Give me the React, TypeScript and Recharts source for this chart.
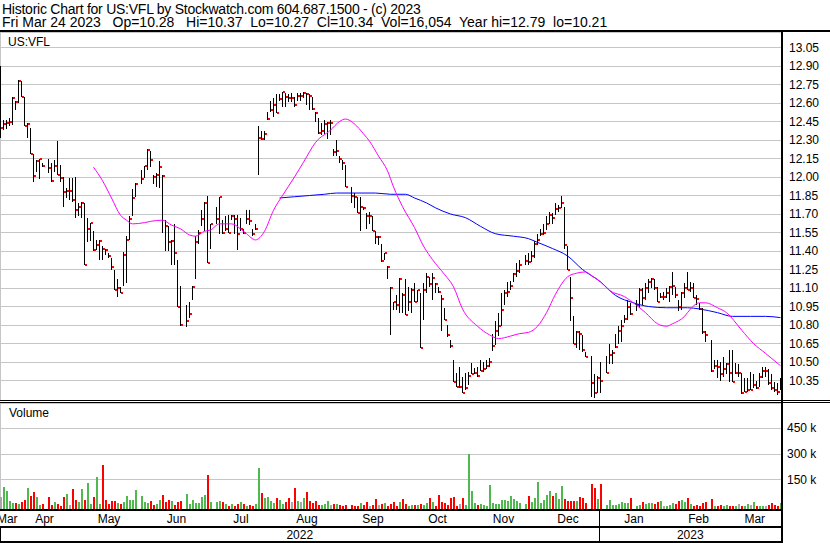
import { ComposedChart, Bar, Line, XAxis, YAxis, CartesianGrid } from 'recharts';

// daily bars, one slot per weekday from Fri Mar 25 2022 to Fri Mar 24 2023 (null = market holiday)
const highs = [
  12.90, 12.46, 12.46, 12.48, 12.65, 12.62, 12.79, 12.78, 12.65, 12.44,
  12.40, 12.19, 12.14, 12.15, 12.11, null, 12.15, 12.11, 12.14, 12.29,
  12.10, 12.00, 11.91, 11.99, 11.99, 12.00, 11.79, 11.80, 11.79, 11.67,
  11.63, 11.56, 11.49, 11.49, 11.44, 11.42, 11.38, 11.34, 11.25, 11.17,
  11.11, 11.39, 11.52, 11.68, 11.90, 11.95, null, 12.06, 12.09, 12.23,
  12.21, 12.02, 12.03, 12.13, 12.02, 11.65, 11.60, 11.49, 11.62, 11.33,
  11.12, null, 10.96, 10.99, 11.12, 11.52, 11.57, 11.73, 11.80, 11.85,
  11.62, null, 11.76, 11.84, 11.65, 11.68, 11.69, 11.69, 11.69, 11.69,
  11.67, 11.58, 11.73, 11.73, 11.58, 11.62, 12.41, 12.37, 12.37, 12.53,
  12.62, 12.64, 12.67, 12.67, 12.69, 12.68, 12.67, 12.68, 12.65, 12.68,
  12.68, 12.69, 12.68, 12.67, 12.65, 12.53, 12.48, 12.44, 12.46, 12.45,
  12.46, 12.23, 12.30, 12.17, 12.14, 12.10, null, 11.92, 11.87, 11.84,
  11.84, 11.76, 11.71, 11.72, 11.68, 11.56, 11.52, 11.46, 11.38, 11.28,
  11.11, 10.99, 11.04, 11.18, 11.06, 11.17, 11.11, 11.10, 11.14, 11.08,
  11.06, 11.14, 11.22, 11.19, 11.22, 11.14, 11.11, 11.04, 10.94, 10.80,
  10.68, 10.52, 10.41, 10.46, 10.38, 10.41, 10.42, 10.49, 10.45, 10.46,
  10.52, 10.50, 10.52, 10.53, 10.73, 10.83, 10.90, 11.06, 11.08, 11.15,
  11.16, 11.22, 11.30, 11.33, null, 11.37, 11.38, 11.40, 11.48, 11.54,
  11.58, 11.62, 11.68, 11.72, 11.71, 11.79, 11.77, 11.85, 11.76, 11.44,
  11.19, 10.87, 10.75, 10.75, 10.72, 10.58, null, 10.55, 10.40, 10.39,
  10.50, null, 10.55, 10.65, 10.60, 10.73, 10.79, 10.84, 10.88, 11.00,
  10.98, null, 11.00, 11.10, 11.10, 11.14, 11.17, 11.18, 11.17, 11.11,
  11.06, 11.07, 11.10, 11.12, 11.23, 11.11, 11.00, 11.07, 11.14, 11.23,
  11.15, 11.14, 11.04, 10.98, 10.94, 10.75, null, 10.68, 10.52, 10.52,
  10.50, 10.54, 10.49, 10.60, 10.60, 10.49, 10.48, 10.41, 10.37, 10.37,
  10.42, 10.40, 10.35, 10.41, 10.46, 10.46, 10.44, 10.40, 10.34, 10.33,
  10.37,
];

const lows = [
  12.32, 12.38, 12.39, 12.41, 12.42, 12.54, 12.60, 12.65, 12.41, 12.32,
  12.19, 11.96, 12.04, 11.98, 12.08, null, 12.03, 11.96, 12.04, 12.02,
  11.96, 11.76, 11.83, 11.81, 11.80, 11.67, 11.68, 11.67, 11.29, 11.47,
  11.48, 11.40, 11.41, 11.33, 11.33, 11.37, 11.34, 11.25, 11.08, 11.03,
  11.06, 11.12, 11.14, 11.49, 11.68, 11.84, null, 11.94, 11.99, 12.06,
  12.08, 11.94, 11.92, 11.91, 11.55, 11.40, 11.40, 11.29, 11.29, 10.95,
  10.79, null, 10.78, 10.86, 11.00, 11.17, 11.46, 11.60, 11.56, 11.30,
  11.42, null, 11.62, 11.54, 11.54, 11.56, 11.55, 11.65, 11.54, 11.41,
  11.56, 11.54, 11.62, 11.61, 11.52, 11.57, 12.02, 12.30, 12.30, 12.46,
  12.53, 12.49, 12.52, 12.62, 12.57, 12.57, 12.61, 12.61, 12.57, 12.62,
  12.62, 12.64, 12.58, 12.54, 12.54, 12.45, 12.35, 12.34, 12.35, 12.31,
  12.34, 12.17, 12.17, 12.11, 12.06, 11.92, null, 11.79, 11.75, 11.71,
  11.56, 11.73, 11.58, 11.62, 11.56, 11.46, 11.45, 11.31, 11.33, 11.17,
  10.72, 10.92, 10.92, 10.90, 10.90, 10.88, 10.91, 10.90, 10.99, 10.99,
  10.61, 10.84, 11.06, 11.11, 11.00, 11.06, 11.06, 10.75, 10.84, 10.70,
  10.61, 10.34, 10.30, 10.29, 10.25, 10.27, 10.31, 10.40, 10.40, 10.38,
  10.43, 10.42, 10.44, 10.46, 10.59, 10.64, 10.71, 10.79, 10.96, 11.03,
  11.08, 11.15, 11.19, 11.22, null, 11.29, 11.29, 11.31, 11.34, 11.45,
  11.52, 11.53, 11.57, 11.62, 11.62, 11.69, 11.72, 11.75, 11.42, 11.25,
  10.83, 10.65, 10.61, 10.60, 10.58, 10.54, null, 10.22, 10.21, 10.25,
  10.25, null, 10.41, 10.48, 10.48, 10.61, 10.65, 10.66, 10.82, 10.84,
  10.88, null, 10.91, 10.94, 10.96, 11.00, 11.06, 11.10, 11.08, 10.99,
  11.02, 11.00, 11.02, 10.99, 11.04, 11.02, 10.91, 10.92, 11.02, 11.08,
  11.07, 11.02, 10.96, 10.92, 10.73, 10.66, null, 10.42, 10.44, 10.37,
  10.35, 10.38, 10.40, 10.34, 10.34, 10.40, 10.38, 10.24, 10.26, 10.26,
  10.27, 10.29, 10.28, 10.30, 10.37, 10.38, 10.31, 10.27, 10.26, 10.23,
  10.27,
];

const closes = [
  12.40, 12.43, 12.44, 12.45, 12.64, 12.61, 12.78, 12.65, 12.41, 12.43,
  12.19, 12.01, 12.13, 12.15, 12.09, null, 12.07, 11.97, 12.09, 12.02,
  11.99, 11.88, 11.89, 11.89, 11.81, 11.73, 11.76, 11.79, 11.29, 11.58,
  11.63, 11.41, 11.45, 11.48, 11.42, 11.41, 11.36, 11.27, 11.08, 11.10,
  11.06, 11.37, 11.49, 11.66, 11.83, 11.94, null, 11.98, 12.09, 12.22,
  12.14, 12.00, 12.02, 12.08, 12.01, 11.60, 11.47, 11.48, 11.38, 10.95,
  10.80, null, 10.83, 10.89, 11.11, 11.47, 11.55, 11.66, 11.79, 11.30,
  11.62, null, 11.66, 11.84, 11.55, 11.58, 11.55, 11.68, 11.66, 11.54,
  11.58, 11.55, 11.66, 11.64, 11.54, 11.58, 12.32, 12.31, 12.35, 12.47,
  12.54, 12.58, 12.52, 12.63, 12.69, 12.65, 12.64, 12.64, 12.58, 12.66,
  12.66, 12.68, 12.67, 12.66, 12.55, 12.52, 12.36, 12.37, 12.43, 12.44,
  12.44, 12.20, 12.21, 12.15, 12.11, 11.92, null, 11.85, 11.84, 11.71,
  11.76, 11.75, 11.68, 11.68, 11.56, 11.51, 11.51, 11.32, 11.38, 11.27,
  11.10, 10.99, 10.96, 11.17, 11.04, 10.88, 10.99, 11.08, 10.99, 11.08,
  10.61, 11.08, 11.19, 11.13, 11.18, 11.13, 11.07, 11.01, 10.84, 10.72,
  10.63, 10.34, 10.30, 10.30, 10.25, 10.29, 10.39, 10.40, 10.41, 10.39,
  10.43, 10.44, 10.47, 10.50, 10.63, 10.75, 10.79, 10.92, 11.06, 11.07,
  11.12, 11.21, 11.24, 11.29, null, 11.32, 11.31, 11.36, 11.46, 11.49,
  11.54, 11.55, 11.62, 11.69, 11.67, 11.74, 11.75, 11.79, 11.45, 11.25,
  11.02, 10.65, 10.74, 10.73, 10.60, 10.54, null, 10.33, 10.25, 10.37,
  10.35, null, 10.41, 10.56, 10.57, 10.62, 10.75, 10.79, 10.85, 10.95,
  10.89, null, 10.96, 11.08, 11.02, 11.10, 11.15, 11.17, 11.10, 10.99,
  11.03, 11.03, 11.06, 11.11, 11.12, 11.04, 10.95, 11.06, 11.10, 11.08,
  11.10, 11.02, 11.01, 10.93, 10.74, 10.72, null, 10.43, 10.47, 10.46,
  10.40, 10.44, 10.48, 10.41, 10.34, 10.41, 10.41, 10.25, 10.26, 10.27,
  10.27, 10.31, 10.29, 10.38, 10.43, 10.43, 10.33, 10.29, 10.27, 10.26,
  10.34,
];

// volume in thousands of shares
const volumes = [
  53, 111, 88, 28, 14, 14, 10, 24, 34, 103,
  57, 80, 51, 5, 10, null, 51, 5, 22, 10,
  2, 51, 69, 5, 98, 34, 22, 98, 34, 132,
  10, 51, 167, 10, 237, 34, 10, 28, 28, 16,
  10, 22, 57, 34, 34, 92, null, 57, 22, 16,
  28, 5, 10, 34, 63, 22, 34, 28, 5, 22,
  28, null, 69, 10, 34, 16, 16, 51, 63, 179,
  22, null, 22, 28, 22, 10, 1, 10, 2, 10,
  22, 10, 2, 5, 2, 10, 220, 74, 45, 51,
  28, 16, 45, 34, 10, 22, 45, 22, 103, 28,
  22, 45, 80, 28, 16, 28, 5, 5, 10, 28,
  5, 10, 10, 5, 2, 5, null, 5, 2, 2,
  16, 5, 22, 2, 5, 40, 5, 10, 16, 2,
  10, 22, 1, 22, 40, 10, 2, 5, 5, 5,
  10, 5, 14, 45, 22, 1, 63, 22, 16, 5,
  45, 51, 2, 10, 45, 5, 301, 86, 16, 5,
  10, 5, 2, 121, 16, 10, 10, 34, 34, 28,
  57, 40, 28, 14, null, 10, 57, 22, 45, 138,
  16, 34, 63, 86, 57, 74, 40, 115, 40, 28,
  28, 28, 28, 51, 45, 16, null, 127, 103, 40,
  127, null, 5, 34, 5, 5, 10, 22, 16, 16,
  45, null, 2, 5, 22, 10, 16, 16, 10, 22,
  28, 2, 2, 5, 16, 10, 28, 34, 22, 45,
  10, 2, 5, 2, 16, 22, null, 40, 1, 2,
  5, 2, 5, 1, 2, 1, 10, 2, 1, 10,
  5, 22, 2, 2, 2, 2, 5, 16, 5, 2,
  16,
];

// moving averages: [day slot, price]
const fastAvg: [number, number][] = [
  [31, 12.08], [34, 11.97], [37, 11.83], [40, 11.69], [42, 11.65], [44, 11.62],
  [48, 11.63], [50, 11.64], [54, 11.65], [57, 11.61], [60, 11.58], [63, 11.53],
  [65, 11.52], [68, 11.56], [70, 11.57], [73, 11.62], [77, 11.62], [80, 11.58],
  [82, 11.54], [85, 11.49], [88, 11.56], [91, 11.73], [94, 11.85], [98, 12.0],
  [101, 12.12], [105, 12.28], [110, 12.38], [113, 12.45], [115, 12.47], [118, 12.43],
  [121, 12.35], [123, 12.29], [126, 12.17], [129, 12.05], [131, 11.92], [134, 11.76],
  [138, 11.59], [141, 11.44], [144, 11.33], [148, 11.21], [151, 11.11], [154, 10.93],
  [159, 10.79], [163, 10.72], [166, 10.69], [170, 10.71], [173, 10.73], [176, 10.74],
  [179, 10.79], [182, 10.9], [185, 11.05], [189, 11.19], [192, 11.22], [195, 11.23],
  [197, 11.2], [200, 11.15], [203, 11.08], [208, 11.03], [212, 10.96], [215, 10.9],
  [219, 10.81], [222, 10.79], [224, 10.81], [228, 10.87], [230, 10.93], [233, 10.98],
  [235, 10.98], [239, 10.94], [242, 10.9], [247, 10.76], [251, 10.65], [255, 10.57],
  [260, 10.47],
];

const slowAvg: [number, number][] = [
  [93, 11.83], [98, 11.84], [103, 11.85], [108, 11.86], [112, 11.87], [117, 11.87],
  [125, 11.87], [130, 11.86], [135, 11.86], [138, 11.83], [142, 11.79], [145, 11.75],
  [150, 11.7], [155, 11.67], [160, 11.6], [165, 11.54], [171, 11.52], [176, 11.5],
  [179, 11.47], [184, 11.42], [189, 11.36], [194, 11.25], [200, 11.15], [205, 11.04],
  [211, 10.98], [216, 10.95], [222, 10.94], [229, 10.94], [233, 10.93], [239, 10.9],
  [244, 10.87], [250, 10.87], [255, 10.87], [260, 10.86],
];

const monthLabels = ['Mar', 'Apr', 'May', 'Jun', 'Jul', 'Aug', 'Sep', 'Oct', 'Nov', 'Dec', 'Jan', 'Feb', 'Mar'];
// day slot where each month's grid line sits (Apr 2022 .. Mar 2023)
const monthFirstSlot = [5, 25, 48, 70, 91, 114, 135, 157, 179, 200, 223, 243];
const yearLabels = ['2022', '2023'];
const priceTicks = [
  10.35, 10.5, 10.65, 10.8, 10.95, 11.1, 11.25, 11.4, 11.55, 11.7,
  11.85, 12.0, 12.15, 12.3, 12.45, 12.6, 12.75, 12.9, 13.05,
];
const volumeTicks = [150, 300, 450];

const titleLine = 'Historic Chart for US:VFL by Stockwatch.com 604.687.1500 - (c) 2023';
const quoteLine = 'Fri Mar 24 2023   Op=10.28   Hi=10.37  Lo=10.27  Cl=10.34  Vol=16,054  Year hi=12.79  lo=10.21';

const FONT = '"Liberation Sans", Arial, sans-serif';
const GRID = '#c6c6c6';
const UP = '#4fb84f';
const DOWN = '#ff0000';
const FLAT = '#a8a8a8';

const LAST = closes.length - 1;
const X_DOMAIN: [number, number] = [-1 / 6, LAST + 1 / 6];
const PRICE_DOMAIN: [number, number] = [10.1919, 13.1757];
const VOL_DOMAIN: [number, number] = [-18, 595.8];

const gridX = monthFirstSlot.map((d) => d - 1 / 3);
const edges = [X_DOMAIN[0], ...gridX, X_DOMAIN[1]];
const monthMid = monthLabels.map((_, k) => (edges[k] + edges[k + 1]) / 2);
const yearLine = gridX[9];
const yearMid = [(X_DOMAIN[0] + yearLine) / 2, (yearLine + X_DOMAIN[1]) / 2];

const fastMap = new Map(fastAvg);
const slowMap = new Map(slowAvg);

let prevClose: number | null = null;
const rows = closes.map((c, i) => {
  let dir = 'flat';
  if (c != null && prevClose != null) dir = c > prevClose ? 'up' : c < prevClose ? 'down' : 'flat';
  if (c != null) prevClose = c;
  const v = volumes[i];
  return {
    i,
    high: highs[i],
    low: lows[i],
    close: c,
    range: c == null ? null : [lows[i], highs[i]],
    vol: v == null ? null : [VOL_DOMAIN[0], v],
    dir,
    fast: fastMap.get(i) ?? null,
    slow: slowMap.get(i) ?? null,
  };
});

function OhlcBar(props: any) {
  const { x, y, width, height, payload } = props;
  if (payload == null || payload.close == null || !Number.isFinite(y)) return null;
  const cx = x + width / 2 + 0.5;
  const span = payload.high - payload.low;
  const yc = span > 0 ? y + ((payload.high - payload.close) / span) * height : y;
  return (
    <g>
      <line x1={cx} x2={cx} y1={y} y2={y + Math.max(height, 1)} stroke="#000" strokeWidth={1} shapeRendering="crispEdges" />
      <rect x={cx + 0.5} y={yc - 1} width={2} height={2} fill={DOWN} shapeRendering="crispEdges" />
    </g>
  );
}

function VolumeBar(props: any) {
  const { x, y, width, height, payload } = props;
  if (payload == null || payload.vol == null || !Number.isFinite(y)) return null;
  const cx = x + width / 2 + 0.5;
  const fill = payload.dir === 'up' ? UP : payload.dir === 'down' ? DOWN : FLAT;
  return <rect x={cx - 0.5} y={y} width={2} height={height} fill={fill} shapeRendering="crispEdges" />;
}

function PriceTick({ x, y, payload }: any) {
  return (
    <text x={x} y={y} dy={4} fontSize={12} fontFamily={FONT} fill="#000" textAnchor="start">
      {Number(payload.value).toFixed(2)}
    </text>
  );
}

function VolumeTick({ x, y, payload }: any) {
  return (
    <text x={x} y={y} dy={4} fontSize={12} fontFamily={FONT} fill="#000" textAnchor="start">
      {`${payload.value} k`}
    </text>
  );
}

function MonthTick({ x, y, index }: any) {
  return (
    <text x={x} y={y + 13.5} fontSize={12} fontFamily={FONT} fill="#000" textAnchor="middle">
      {monthLabels[index]}
    </text>
  );
}

function YearTick({ x, y, payload, index }: any) {
  if (payload.value === yearLine) {
    return <line x1={x} x2={x} y1={y - 17} y2={y + 17} stroke="#000" strokeWidth={1} shapeRendering="crispEdges" />;
  }
  return (
    <text x={x} y={y + 13} fontSize={12} fontFamily={FONT} fill="#000" textAnchor="middle">
      {yearLabels[index === 0 ? 0 : 1]}
    </text>
  );
}

const rule = (left: number, top: number, width: number, height: number) => (
  <div style={{ position: 'absolute', left, top, width, height, background: '#000' }} />
);

const headText = { position: 'absolute', left: 2, fontSize: 14, lineHeight: '13px', whiteSpace: 'pre' } as const;

export default function App() {
  return (
    <div
      style={{
        position: 'absolute',
        left: 0,
        top: 0,
        width: 830,
        height: 543,
        background: '#fff',
        overflow: 'hidden',
        fontFamily: FONT,
        color: '#000',
      }}
    >
      <div style={{ ...headText, top: 2.5, letterSpacing: -0.25 }}>{titleLine}</div>
      <div style={{ ...headText, top: 15.5 }}>{quoteLine}</div>

      <div style={{ position: 'absolute', left: 0, top: 0 }}>
        <ComposedChart width={830} height={400} data={rows} margin={{ top: 32, right: 0, bottom: 0, left: 0 }}>
          <CartesianGrid stroke={GRID} shapeRendering="crispEdges" />
          <XAxis
            type="number"
            dataKey="i"
            domain={X_DOMAIN}
            ticks={gridX}
            interval={0}
            height={0}
            tick={false}
            axisLine={false}
            tickLine={false}
            allowDataOverflow
          />
          <YAxis
            orientation="right"
            type="number"
            width={49}
            domain={PRICE_DOMAIN}
            ticks={priceTicks}
            interval={0}
            allowDataOverflow
            axisLine={false}
            tickLine={false}
            tickSize={0}
            tickMargin={8}
            tick={<PriceTick />}
          />
          <Bar dataKey="range" barSize={2} shape={<OhlcBar />} isAnimationActive={false} />
          <Line
            dataKey="slow"
            type="monotone"
            stroke="#0000ff"
            strokeWidth={1}
            dot={false}
            activeDot={false}
            connectNulls
            isAnimationActive={false}
          />
          <Line
            dataKey="fast"
            type="monotone"
            stroke="#ff00ff"
            strokeWidth={1}
            dot={false}
            activeDot={false}
            connectNulls
            isAnimationActive={false}
          />
        </ComposedChart>
      </div>

      <div style={{ position: 'absolute', left: 0, top: 0 }}>
        <ComposedChart width={830} height={543} data={rows} margin={{ top: 403, right: 0, bottom: 0, left: 0 }}>
          <CartesianGrid stroke={GRID} shapeRendering="crispEdges" />
          <XAxis
            type="number"
            dataKey="i"
            domain={X_DOMAIN}
            ticks={gridX}
            interval={0}
            height={0}
            tick={false}
            axisLine={false}
            tickLine={false}
            allowDataOverflow
          />
          <XAxis
            xAxisId="month"
            type="number"
            dataKey="i"
            domain={X_DOMAIN}
            ticks={monthMid}
            interval={0}
            height={17}
            tickSize={0}
            tickMargin={0}
            axisLine={false}
            tickLine={false}
            tick={<MonthTick />}
            allowDataOverflow
          />
          <XAxis
            xAxisId="year"
            type="number"
            dataKey="i"
            domain={X_DOMAIN}
            ticks={[yearMid[0], yearLine, yearMid[1]]}
            interval={0}
            height={17}
            tickSize={0}
            tickMargin={0}
            axisLine={false}
            tickLine={false}
            tick={<YearTick />}
            allowDataOverflow
          />
          <YAxis
            orientation="right"
            type="number"
            width={49}
            domain={VOL_DOMAIN}
            ticks={volumeTicks}
            interval={0}
            allowDataOverflow
            axisLine={false}
            tickLine={false}
            tickSize={0}
            tickMargin={6}
            tick={<VolumeTick />}
          />
          <Bar dataKey="vol" barSize={2} shape={<VolumeBar />} isAnimationActive={false} />
        </ComposedChart>
      </div>

      <div style={{ position: 'absolute', left: 8, top: 35, fontSize: 12, lineHeight: '14px' }}>US:VFL</div>
      <div style={{ position: 'absolute', left: 9, top: 406, fontSize: 12, lineHeight: '14px' }}>Volume</div>

      {rule(0, 30, 830, 2)}
      {rule(0, 400, 830, 1)}
      {rule(0, 402, 830, 1)}
      {rule(781, 30, 2, 513)}
      {rule(0, 509, 781, 2)}
      {rule(0, 526, 781, 2)}
      {rule(0, 541, 781, 2)}
      {rule(0, 526, 1, 17)}
    </div>
  );
}
